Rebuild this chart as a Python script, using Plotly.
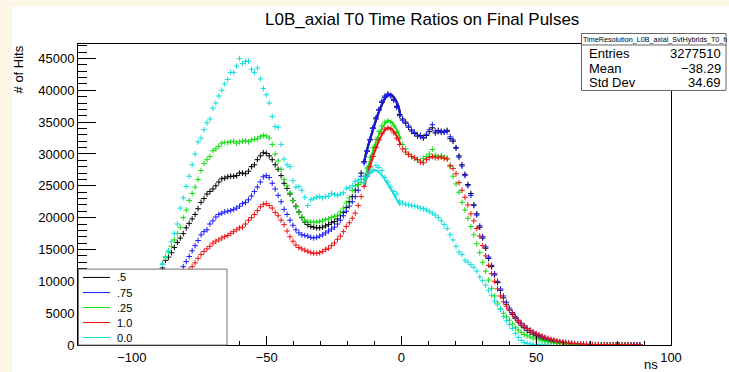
import plotly.graph_objects as go

# ---------------- data ----------------
BIN_LO = -120.0      # histogram lower edge (ns)
BIN_W = 1.1          # bin width (ns)
FIRST_BIN = 14       # index of first listed bin

labels = [".5", ".75", ".25", "1.0", "0.0"]

hits_p50 = [
    2500, 2900, 3300, 3700, 4100, 4600, 5100, 5700, 6500, 7200,
    8000, 9000, 10000, 11000, 12100, 13300, 13800, 14500, 15300, 16100,
    16800, 17500, 18400, 19100, 19800, 20500, 21400, 22400, 23000, 23700,
    24100, 24500, 25000, 25600, 26100, 26200, 26400, 26500, 26500, 26600,
    27000, 27000, 26900, 27300, 28000, 28300, 29100, 29700, 30200, 30100,
    29700, 29100, 28300, 27600, 26600, 25400, 24600, 23700, 22700, 21800,
    20900, 20000, 19300, 18900, 18600, 18500, 18400, 18400, 18500, 18700,
    18900, 19200, 19400, 19800, 20300, 20800, 21600, 22500, 23300, 24300,
    25200, 27000, 28800, 30500, 32200, 34100, 35500, 36900, 38100, 38900,
    39400, 39200, 38600, 37500, 36200, 35500, 35000, 34200, 33600, 33200,
    32800, 32900, 32500, 32900, 33500, 34100, 33300, 33700, 33400, 33500,
    33700, 32400, 32000, 31000, 29700, 28300, 26800, 25200, 23800, 22000,
    20600, 18500, 16800, 15200, 13600, 12300, 11000, 9800, 8600, 7400,
    6400, 5500, 4800, 4200, 3600, 3100, 2700, 2300, 2000, 1700,
    1450, 1250, 1050, 900, 760, 640, 540, 450, 380, 320,
    270, 220, 180, 150, 120, 100, 80, 65, 50, 40,
    32, 26, 20, 16, 12, 10, 8, 6, 5, 4,
    3, 3, 2, 2, 1, 1,
]

hits_p75 = [
    1800, 2100, 2400, 2700, 3000, 3400, 3800, 4200, 4700, 5200,
    5800, 6300, 6800, 7300, 7800, 8400, 9000, 9700, 10300, 10900,
    11500, 12300, 13100, 13900, 14800, 15600, 16400, 17300, 17800, 18100,
    19000, 19500, 20100, 20500, 20700, 20900, 21000, 21100, 21300, 21500,
    21800, 22200, 22400, 22800, 23400, 24100, 24800, 25600, 26400, 26600,
    26300, 25400, 24500, 23500, 22500, 21300, 20500, 19600, 18800, 18100,
    17600, 17300, 17200, 17100, 16900, 16800, 16900, 17100, 17300, 17600,
    17900, 18200, 18500, 19000, 19600, 20300, 21000, 21800, 22500, 23300,
    24300, 26500, 28600, 30400, 32300, 34000, 35700, 37000, 38300, 39100,
    39300, 39100, 38400, 37300, 36000, 35300, 34800, 34400, 33800, 33400,
    33000, 32700, 32600, 33100, 33800, 34600, 33600, 33500, 33600, 33400,
    33500, 32700, 32200, 30900, 29500, 28100, 26600, 25000, 23500, 21900,
    20400, 18700, 17000, 15400, 13800, 12500, 11200, 10000, 8800, 7700,
    6700, 5800, 5100, 4500, 3900, 3400, 3000, 2600, 2300, 2000,
    1750, 1500, 1300, 1120, 950, 800, 680, 570, 480, 400,
    340, 280, 230, 190, 160, 130, 105, 85, 70, 55,
    45, 36, 28, 22, 18, 14, 11, 9, 7, 5,
    4, 3, 3, 2, 2, 1,
]

hits_p25 = [
    2600, 3000, 3400, 3900, 4400, 5000, 5600, 6300, 7000, 7800,
    8600, 9500, 10500, 11500, 12700, 13700, 14600, 15500, 16500, 17500,
    18500, 20000, 21200, 22700, 23800, 24800, 26000, 27400, 28500, 29100,
    29600, 30500, 30800, 31200, 31700, 31800, 31800, 31900, 32000, 31700,
    31900, 32000, 32100, 31900, 32200, 32300, 32400, 32700, 32900, 32800,
    32500, 31500, 30000, 28900, 27600, 26000, 25000, 23900, 22700, 21700,
    20800, 20100, 19600, 19400, 19300, 19300, 19300, 19400, 19500, 19700,
    19800, 20000, 20200, 20400, 20900, 21500, 22300, 23100, 24300, 25000,
    25200, 25500, 26000, 27800, 29500, 31000, 32300, 33500, 34400, 35000,
    35200, 35000, 34400, 33500, 32400, 31500, 30800, 30000, 29600, 29300,
    29100, 28900, 29300, 29600, 30000, 30700, 29800, 29600, 29700, 29500,
    29300, 28000, 26500, 25300, 24000, 22400, 21200, 19900, 18600, 17300,
    15900, 14500, 13000, 11600, 10200, 8900, 7700, 6600, 5700, 5000,
    4400, 3900, 3300, 2800, 2350, 1950, 1650, 1450, 1250, 1100,
    950, 820, 700, 600, 500, 420, 350, 290, 240, 200,
    160, 130, 100, 80, 65, 50, 40, 30, 25, 20,
    16, 12, 10, 8, 6, 5, 4, 3, 2, 2,
    1, 1, 1,
]

hits_1p0 = [
    1300, 1500, 1800, 2100, 2400, 2700, 3100, 3500, 3900, 4400,
    4900, 5400, 5900, 6500, 7000, 7600, 8200, 8800, 9400, 10000,
    10500, 10900, 11200, 11800, 12300, 12900, 13600, 14200, 14700, 15100,
    15500, 16000, 16300, 16500, 16800, 17000, 17200, 17500, 17800, 18100,
    18400, 18500, 19000, 19600, 20000, 20500, 21100, 21700, 22100, 22200,
    21900, 21500, 20800, 20300, 19600, 18900, 17900, 17000, 16300, 15700,
    15300, 15100, 14900, 14700, 14500, 14400, 14400, 14500, 14700, 15000,
    15200, 15600, 16000, 16600, 17100, 17800, 18600, 19200, 19900, 20700,
    21900, 23300, 24900, 26500, 28000, 29600, 31000, 32200, 33200, 33900,
    34100, 33900, 33300, 32500, 31500, 30800, 30300, 29900, 29600, 29400,
    29100, 28700, 28600, 29100, 29400, 29600, 29400, 29400, 29500, 29300,
    29200, 28200, 27700, 26900, 25500, 24300, 23200, 22000, 20600, 19500,
    18300, 17100, 15600, 14000, 12500, 11200, 10000, 8800, 7700, 6800,
    6100, 5500, 4900, 4300, 3800, 3400, 3000, 2600, 2300, 2000,
    1800, 1600, 1400, 1200, 1050, 900, 780, 660, 560, 470,
    400, 330, 280, 230, 190, 160, 130, 110, 90, 75,
    60, 50, 40, 32, 26, 20, 16, 12, 10, 8,
    6, 5, 4, 3, 2, 2,
]

hits_0p0 = [
    1500, 1800, 2200, 2600, 3100, 3700, 4300, 5000, 5800, 6700,
    7700, 8800, 10000, 11300, 12700, 13900, 14800, 16200, 17500, 19000,
    21500, 23100, 24900, 26500, 28300, 30000, 31900, 32500, 33800, 34900,
    35500, 37200, 38000, 39100, 40000, 41000, 41700, 42800, 42800, 43800,
    45000, 44200, 44500, 44600, 43300, 42800, 43500, 41800, 40300, 39300,
    38000, 35900, 34300, 34200, 31500, 29200, 28300, 28000, 25800, 24800,
    24900, 24300, 23200, 21900, 22800, 23000, 23200, 23300, 23100, 23300,
    23400, 23800, 23600, 23500, 23700, 23900, 24600, 24700, 25000, 25700,
    25900, 26000, 26500, 27000, 27300, 27500, 28200, 27900, 27400, 26300,
    25600, 24800, 24100, 23700, 22600, 22300, 22100, 22000, 21900, 21800,
    21700, 21500, 21400, 21200, 21000, 20700, 20400, 20000, 19500, 18900,
    18300, 17300, 16500, 15500, 14600, 14200, 13300, 13000, 12600, 12200,
    11600, 10700, 10100, 9400, 8600, 7800, 6900, 6300, 5600, 4500,
    3800, 3200, 2600, 1800, 1200, 700, 400, 250, 150, 90,
    50, 30, 20, 12, 8,
]

# fitted curves over the second peak
fit_x = [-13.8, -13, -12, -11, -10, -9, -8, -7, -6, -5, -4, -3, -2, -1, -0.4]
fit_p50 = [28800, 30300, 31800, 33200, 34600, 35900, 37000, 38000, 38800, 39300, 39300, 39000, 38300, 37300, 35900]
fit_p75 = [28800, 30300, 31800, 33200, 34600, 35900, 37000, 38000, 38800, 39300, 39300, 39000, 38300, 37300, 35900]
fit_p25 = [25700, 27000, 28500, 29900, 31200, 32400, 33400, 34200, 34800, 35200, 35100, 34700, 34000, 33100, 32400]
fit_1p0 = [24900, 26100, 27600, 29000, 30300, 31400, 32400, 33200, 33800, 34100, 34000, 33600, 33000, 32200, 31500]
fit_x_0p0 = [-14, -13, -12, -11, -10, -9, -8, -7, -6, -5, -4, -3, -2, -1, -0.4]
fit_0p0 = [25200, 26100, 26800, 27200, 27400, 27300, 27000, 26500, 25900, 25200, 24500, 23800, 23000, 22300, 21900]

stats = [("Entries", "3277510"), ("Mean", "\u221238.29"), ("Std Dev", "34.69")]
stats_name = "TimeResolution_L0B_axial_SvtHybrids_T0_h"
title = "L0B_axial T0 Time Ratios on Final Pulses"

# ---------------- styling ----------------
FONT = "Liberation Sans, Arial, Helvetica, sans-serif"
COL = {".5": "#000000", ".75": "#1a1aff", ".25": "#11dd11", "1.0": "#ee1111", "0.0": "#11dddd"}
W, H = 729, 372
L, R, T, B = 78, 671, 43.5, 345


def X(px):
    return (px - L) / (R - L)


def Y(py):
    return (B - py) / (B - T)


def centers(n):
    return [BIN_LO + BIN_W * (FIRST_BIN + i + 0.5) for i in range(n)]


series = [(".5", hits_p50), (".75", hits_p75), (".25", hits_p25), ("1.0", hits_1p0), ("0.0", hits_0p0)]
fits = {".5": (fit_x, fit_p50), ".75": (fit_x, fit_p75), ".25": (fit_x, fit_p25),
        "1.0": (fit_x, fit_1p0), "0.0": (fit_x_0p0, fit_0p0)}

fig = go.Figure()
for name, vals in series:
    xs = centers(len(vals))
    px_ = [x for x, v in zip(xs, vals) if v > 0]
    pv = [v for v in vals if v > 0]
    c = COL[name]
    fig.add_trace(go.Scatter(
        x=px_, y=pv, mode="markers", name=name, showlegend=False,
        marker=dict(symbol="cross-thin", size=4, color=c, line=dict(width=1, color=c)),
        hoverinfo="skip"))
    fx, fy = fits[name]
    fig.add_trace(go.Scatter(
        x=fx, y=fy, mode="lines", showlegend=False, hoverinfo="skip",
        line=dict(color=c, width=2.2 if name in (".5", ".75") else 2, shape="spline"),
        opacity=0.85 if name == ".75" else 1.0))

shapes = []
cream = "#fdf5e6"
shapes.append(dict(type="rect", xref="paper", yref="paper", x0=X(0), x1=X(12), y0=Y(H), y1=Y(0),
                   fillcolor=cream, line=dict(width=0), layer="above"))
shapes.append(dict(type="rect", xref="paper", yref="paper", x0=X(0), x1=X(W), y0=Y(6), y1=Y(0),
                   fillcolor=cream, line=dict(width=0), layer="above"))

# legend box
shapes.append(dict(type="rect", xref="paper", yref="paper", x0=X(78.5), x1=X(227), y0=Y(345), y1=Y(269),
                   fillcolor="white", line=dict(color="#777777", width=1), layer="above"))
leg_rows = [277.3, 292.5, 307.5, 322.5, 337.5]
annotations = []
for name, ry in zip(labels, leg_rows):
    shapes.append(dict(type="line", xref="paper", yref="paper", x0=X(83), x1=X(110), y0=Y(ry), y1=Y(ry),
                       line=dict(color=COL[name], width=1), layer="above"))
    annotations.append(dict(text=name, xref="paper", yref="paper", x=X(115), y=Y(ry), xanchor="left",
                            yanchor="middle", showarrow=False, font=dict(family=FONT, size=11, color="black")))

# stats box
shapes.append(dict(type="rect", xref="paper", yref="paper", x0=X(581.5), x1=X(726), y0=Y(90), y1=Y(33),
                   fillcolor="white", line=dict(color="#666666", width=1), layer="above"))
shapes.append(dict(type="line", xref="paper", yref="paper", x0=X(581.5), x1=X(726), y0=Y(44.5), y1=Y(44.5),
                   line=dict(color="#666666", width=1), layer="above"))
annotations.append(dict(text=stats_name, xref="paper", yref="paper", x=X(655), y=Y(38.8), xanchor="center",
                        yanchor="middle", showarrow=False, font=dict(family=FONT, size=7.2, color="black")))
for (k, v), ry in zip(stats, [53, 68, 82.5]):
    annotations.append(dict(text=k, xref="paper", yref="paper", x=X(587), y=Y(ry), xanchor="left",
                            yanchor="middle", showarrow=False, font=dict(family=FONT, size=13, color="black")))
    annotations.append(dict(text=v, xref="paper", yref="paper", x=X(723), y=Y(ry), xanchor="right",
                            yanchor="middle", showarrow=False, font=dict(family=FONT, size=13, color="black")))

# titles
annotations.append(dict(text=title, xref="paper", yref="paper", x=X(422), y=Y(19), xanchor="center",
                        yanchor="middle", showarrow=False, font=dict(family=FONT, size=17, color="black")))
annotations.append(dict(text="# of Hits", xref="paper", yref="paper", x=X(18), y=Y(69), xanchor="center",
                        yanchor="middle", textangle=-90, showarrow=False,
                        font=dict(family=FONT, size=13, color="black")))
annotations.append(dict(text="ns", xref="paper", yref="paper", x=X(651), y=Y(365), xanchor="center",
                        yanchor="middle", showarrow=False, font=dict(family=FONT, size=13, color="black")))

axis_common = dict(showline=True, linecolor="black", linewidth=1, mirror=True, showgrid=False,
                   zeroline=False, ticks="inside", tickcolor="black", automargin=False,
                   tickfont=dict(family=FONT, size=13, color="black"))

fig.update_layout(
    width=W, height=H, template="none",
    margin=dict(l=L, r=W - R, t=T, b=H - B, pad=0),
    paper_bgcolor="white", plot_bgcolor="white",
    showlegend=False,
    xaxis=dict(range=[-120, 100], tick0=0, dtick=50, ticklen=9,
               minor=dict(dtick=10, ticklen=4.5, ticks="inside", tickcolor="black"), **axis_common),
    yaxis=dict(range=[0, 47270], tick0=0, dtick=5000, ticklen=18, tickformat="d",
               minor=dict(dtick=1000, ticklen=9, ticks="inside", tickcolor="black"), **axis_common),
    shapes=shapes, annotations=annotations,
)

fig.write_html("out.html",
               config={"displayModeBar": False, "staticPlot": True},
               post_script="document.body.style.margin='0px';document.body.style.padding='0px';"
                           "document.body.style.overflow='hidden';")
